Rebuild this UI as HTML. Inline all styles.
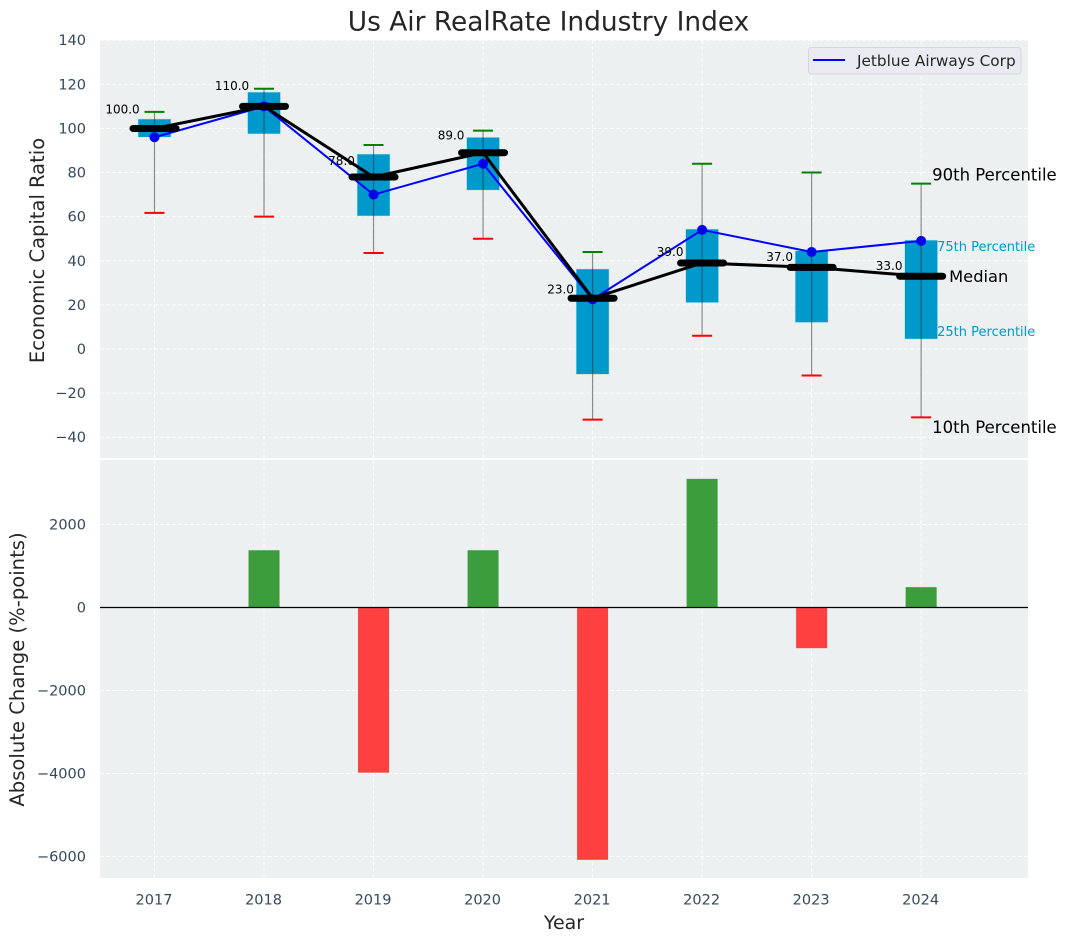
<!DOCTYPE html>
<html lang="en">
<head>
<meta charset="utf-8">
<title>Us Air RealRate Industry Index</title>
<style>
html,body{margin:0;padding:0;background:#fff;}
svg{display:block;font-family:"DejaVu Sans","Liberation Sans",sans-serif;}
</style>
</head>
<body>
<svg id="chart" xmlns="http://www.w3.org/2000/svg" width="1067" height="942" viewBox="0 0 1067 942"></svg>
<script>
const years = [2017, 2018, 2019, 2020, 2021, 2022, 2023, 2024];
const p90 = [107.5, 118, 92.5, 99, 44, 84, 80, 75];
const p75 = [104.3, 116.5, 88.4, 96, 36.3, 54.4, 44.6, 49.4];
const medians = [100, 110, 78, 89, 23, 39, 37, 33];
const p25 = [96, 97.5, 60.3, 72, -11.5, 21, 12, 4.5];
const p10 = [61.7, 60, 43.5, 50, -32, 6, -12, -31];
const companyValues = [96, 110, 70, 84, 22.5, 54, 44, 49];
const changes = [0, 1380, -3980, 1380, -6080, 3100, -980, 490];
const topTicks = [140, 120, 100, 80, 60, 40, 20, 0, -20, -40];
const bottomTicks = [2000, 0, -2000, -4000, -6000];

const svg = document.getElementById('chart');
const NS = 'http://www.w3.org/2000/svg';
const PL = 100, PR = 1028, TT = 40, TB = 458, BT = 460, BB = 878;
const x = v => 154.5 + (v - 2017) * 109.52;
const yTop = v => 349 - v * 2.2055;
const yBot = v => 607.5 - v * 0.0415;
const fmt = v => String(v).replace('-', '\u2212');

function make(tag, attrs, text) {
  const el = document.createElementNS(NS, tag);
  for (const k in attrs) el.setAttribute(k, attrs[k]);
  if (text !== undefined) el.textContent = text;
  svg.appendChild(el);
  return el;
}
let el;

/* Panels */
el = make('rect', {x: PL, y: TT, width: PR - PL, height: TB - TT, fill: '#ecf0f1'});


el = make('rect', {x: PL, y: BT, width: PR - PL, height: BB - BT, fill: '#ecf0f1'});



/* Grid */
const gridStyle = {stroke: '#ffffff', 'stroke-width': 1, 'stroke-dasharray': '4 2', 'stroke-opacity': 0.85};
years.forEach(year => {
  el = make('line', Object.assign({x1: x(year), x2: x(year), y1: TT, y2: TB}, gridStyle));
  
  
  el = make('line', Object.assign({x1: x(year), x2: x(year), y1: BT, y2: BB}, gridStyle));
  
  
});
topTicks.forEach(t => {
  el = make('line', Object.assign({x1: PL, x2: PR, y1: yTop(t), y2: yTop(t)}, gridStyle));
  
  
  el = make('text', {x: 86, y: yTop(t) + 5, 'text-anchor': 'end', 'font-size': 14.5, fill: '#34495e'}, fmt(t));
  
  
});
bottomTicks.forEach(t => {
  el = make('line', Object.assign({x1: PL, x2: PR, y1: yBot(t), y2: yBot(t)}, gridStyle));
  
  
  el = make('text', {x: 86, y: yBot(t) + 5, 'text-anchor': 'end', 'font-size': 14.5, fill: '#34495e'}, fmt(t));
  
  
});
years.forEach(year => {
  el = make('text', {x: x(year) - 0.5, y: 904.5, 'text-anchor': 'middle', 'font-size': 14.5, fill: '#34495e'}, String(year));
  
  
});

/* Panel divider */
el = make('line', {x1: PL, x2: PR, y1: 459, y2: 459, stroke: '#ffffff', 'stroke-width': 2});



/* Boxes */
years.forEach((year, i) => {
  el = make('rect', {x: x(year) - 16.5, y: yTop(p75[i]), width: 33, height: yTop(p25[i]) - yTop(p75[i]), fill: '#0099cc', stroke: '#c8e6f0', 'stroke-width': 0.6});
  
  
});

/* Company series line */
el = make('polyline', {points: years.map((year, i) => x(year) + ',' + yTop(companyValues[i])).join(' '), fill: 'none', stroke: '#0000ff', 'stroke-width': 2});


years.forEach((year, i) => {
  el = make('circle', {cx: x(year), cy: yTop(companyValues[i]), r: 5, fill: '#0000ff'});
  
  
});

/* Whiskers and caps */
years.forEach((year, i) => {
  el = make('line', {x1: x(year), x2: x(year), y1: yTop(p90[i]), y2: yTop(p10[i]), stroke: '#222222', 'stroke-opacity': 0.5, 'stroke-width': 1.2});
  
  
  el = make('line', {x1: x(year) - 10, x2: x(year) + 10, y1: yTop(p90[i]), y2: yTop(p90[i]), stroke: '#008000', 'stroke-width': 2});
  
  
  el = make('line', {x1: x(year) - 10, x2: x(year) + 10, y1: yTop(p10[i]), y2: yTop(p10[i]), stroke: '#ff0000', 'stroke-width': 2});
  
  
});

/* Median line and markers */
el = make('polyline', {points: years.map((year, i) => x(year) + ',' + yTop(medians[i])).join(' '), fill: 'none', stroke: '#000000', 'stroke-width': 3});


years.forEach((year, i) => {
  el = make('line', {x1: x(year) - 21.5, x2: x(year) + 21.5, y1: yTop(medians[i]), y2: yTop(medians[i]), stroke: '#000000', 'stroke-width': 7, 'stroke-linecap': 'round'});
  
  
  el = make('text', {x: x(year) - 32, y: yTop(medians[i] * 1.06 + 2.8) + 4.5, 'text-anchor': 'middle', 'font-size': 12, fill: '#000000'}, medians[i].toFixed(1));
  
  
});

/* Percentile annotations, anchored on the last year */
const last = years.length - 1;
const lastX = x(years[last]);
el = make('text', {x: lastX + 11, y: yTop(p90[last]) - 3, 'font-size': 16.5, fill: '#000000'}, '90th Percentile');


el = make('text', {x: lastX + 16, y: yTop(p75[last]) + 11, 'font-size': 13, fill: '#0099cc'}, '75th Percentile');


el = make('text', {x: lastX + 28, y: yTop(medians[last]) + 6, 'font-size': 16.3, fill: '#000000'}, 'Median');


el = make('text', {x: lastX + 16, y: yTop(p25[last]) - 3, 'font-size': 13, fill: '#0099cc'}, '25th Percentile');


el = make('text', {x: lastX + 11, y: yTop(p10[last]) + 15.5, 'font-size': 16.5, fill: '#000000'}, '10th Percentile');



/* Change bars */
years.forEach((year, i) => {
  const v = changes[i];
  const y0 = yBot(Math.max(v, 0));
  const h = Math.abs(yBot(v) - yBot(0));
  el = make('rect', {x: x(year) - 15.5, y: y0, width: 31, height: h, fill: v >= 0 ? '#3c9d3c' : '#ff4040'});
  
  
});
el = make('line', {x1: PL, x2: PR, y1: yBot(0), y2: yBot(0), stroke: '#000000', 'stroke-width': 1.3});



/* Legend */
el = make('rect', {x: 808.5, y: 47.5, width: 212.5, height: 26.5, rx: 3, fill: '#eaeaf2', stroke: '#d6d6da', 'stroke-width': 1});


el = make('line', {x1: 813, x2: 845, y1: 60, y2: 60, stroke: '#0000ff', 'stroke-width': 2});


el = make('text', {x: 857, y: 66, 'font-size': 15.3, fill: '#262626'}, 'Jetblue Airways Corp');



/* Titles */
el = make('text', {x: 548.5, y: 30.5, 'text-anchor': 'middle', 'font-size': 26.4, fill: '#262626'}, 'Us Air RealRate Industry Index');


el = make('text', {x: 564, y: 929, 'text-anchor': 'middle', 'font-size': 19, fill: '#262626'}, 'Year');


el = make('text', {transform: 'translate(44 250.5) rotate(-90)', 'text-anchor': 'middle', 'font-size': 19.5, fill: '#262626'}, 'Economic Capital Ratio');


el = make('text', {transform: 'translate(24 669.5) rotate(-90)', 'text-anchor': 'middle', 'font-size': 19.6, fill: '#262626'}, 'Absolute Change (%-points)');


</script>
</body>
</html>
